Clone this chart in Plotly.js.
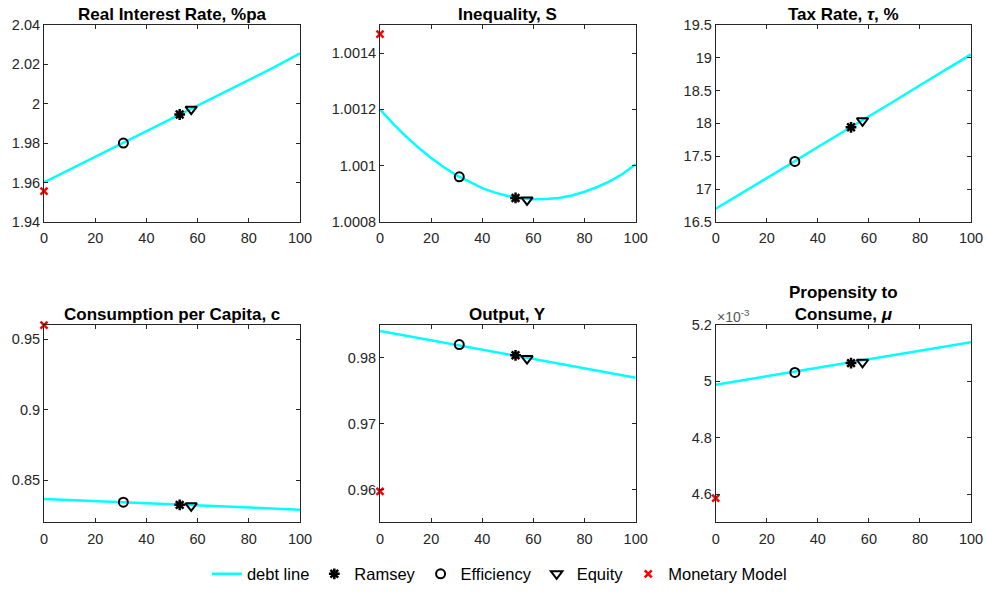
<!DOCTYPE html>
<html>
<head>
<meta charset="utf-8">
<script src="https://cdn.plot.ly/plotly-3.0.1.min.js"></script>
<style>html,body{margin:0;padding:0;background:#fff;}#chart{width:987px;height:592px;}</style>
</head>
<body>
<div id="chart"></div>
<script>
// ---- data ----
const debtX = [0, 10, 20, 30, 40, 50, 60, 70, 80, 90, 100];
const debtXfine = [0, 5, 10, 15, 20, 25, 30, 35, 40, 45, 50, 55, 60, 65, 70, 75, 80, 85, 90, 95, 100];

const rateLine = [1.960, 1.9665, 1.973, 1.9795, 1.986, 1.9925, 1.999, 2.0055, 2.012, 2.0185, 2.0255];
const ineqLine = [1.001200, 1.001150, 1.001105, 1.001064, 1.001027, 1.000994, 1.000965, 1.000941, 1.000920, 1.000904, 1.000892, 1.000884, 1.000880, 1.000881, 1.000885, 1.000894, 1.000907, 1.000924, 1.000945, 1.000971, 1.001005];
const taxLine = [16.70, 16.93, 17.17, 17.40, 17.64, 17.87, 18.11, 18.34, 18.58, 18.81, 19.05];
const consLine = [0.8366, 0.8358, 0.8351, 0.8343, 0.8336, 0.8328, 0.8320, 0.8313, 0.8305, 0.8298, 0.8290];
const outLine = [0.9841, 0.9834, 0.9827, 0.9820, 0.9813, 0.9806, 0.9799, 0.9792, 0.9785, 0.9778, 0.9770];
const mpcLine = [4.988e-3, 5.003e-3, 5.018e-3, 5.033e-3, 5.048e-3, 5.064e-3, 5.079e-3, 5.094e-3, 5.109e-3, 5.124e-3, 5.139e-3];

const ramseyX = 53, efficiencyX = 31, equityX = 57.5, monetaryX = 0;
// per panel: [rate, inequality, tax, consumption, output, propensity]
const ramseyY = [1.9945, 1.000885, 17.94, 0.8324, 0.9804, 5.065e-3];
const efficiencyY = [1.9800, 1.000960, 17.42, 0.8343, 0.98204, 5.032e-3];
const equityY = [1.9972, 1.000878, 18.04, 0.8317, 0.9799, 5.068e-3];
const monetaryY = [1.9556, 1.001467, null, 0.9600, 0.9597, 4.586e-3];

const titles = ["Real Interest Rate, %pa", "Inequality, S", "Tax Rate, <i>τ</i>, %",
                "Consumption per Capita, c", "Output, Y", "Propensity to<br>Consume, <i>μ</i>"];
const legendNames = ["debt line", "Ramsey", "Efficiency", "Equity", "Monetary Model"];

// ---- layout helpers ----
const W = 987, H = 592;
const colsPx = [[44, 300], [380, 635.7], [715.7, 971]];
const rowsPx = [[25, 223], [326.7, 525]];
const yRanges = [[1.94, 2.04], [1.0008, 1.0015], [16.5, 19.5], [0.82, 0.96], [0.955, 0.985], [4.5e-3, 5.2e-3]];
const yDticks = [0.02, 0.0002, 0.5, 0.05, 0.01, 0.2e-3];
const lines = [rateLine, ineqLine, taxLine, consLine, outLine, mpcLine];
const lineXs = [debtX, debtXfine, debtX, debtX, debtX, debtX];

const font = "Liberation Sans, Arial, Helvetica, sans-serif";
const axCol = "#262626";
const tickSize = 14.5;
const traces = [];
const layout = {
  width: W, height: H,
  margin: {l: 0, r: 0, t: 0, b: 0},
  paper_bgcolor: "#fff", plot_bgcolor: "#fff",
  font: {family: font, size: tickSize, color: axCol},
  showlegend: true,
  legend: {orientation: "h", x: 0.506, xanchor: "center", y: 1 - 577 / H, yanchor: "middle",
           font: {family: font, size: 16.5, color: "#000"}, bgcolor: "rgba(0,0,0,0)", itemwidth: 30,
           tracegroupgap: 0},
  annotations: []
};

for (let i = 0; i < 6; i++) {
  const r = Math.floor(i / 3), c = i % 3;
  const xa = i === 0 ? "x" : "x" + (i + 1);
  const ya = i === 0 ? "y" : "y" + (i + 1);
  const xkey = i === 0 ? "xaxis" : "xaxis" + (i + 1);
  const ykey = i === 0 ? "yaxis" : "yaxis" + (i + 1);
  const dom = [1 - rowsPx[r][1] / H, 1 - rowsPx[r][0] / H];
  layout[xkey] = {
    domain: [colsPx[c][0] / W, colsPx[c][1] / W], anchor: ya, range: [0, 100],
    tick0: 0, dtick: 20, ticks: "inside", ticklen: 4, tickcolor: axCol, mirror: "ticks",
    showline: true, linecolor: axCol, linewidth: 1, showgrid: false, zeroline: false,
    ticklabelstandoff: 3,
    tickfont: {family: font, size: tickSize, color: axCol}
  };
  const yax = {
    domain: dom, anchor: xa, range: yRanges[i], tick0: 0, dtick: yDticks[i],
    ticks: "inside", ticklen: 4, tickcolor: axCol, mirror: "ticks",
    showline: true, linecolor: axCol, linewidth: 1, showgrid: false, zeroline: false,
    tickfont: {family: font, size: tickSize, color: axCol}
  };
  if (i === 5) {
    yax.tickmode = "array";
    yax.tickvals = [4.6e-3, 4.8e-3, 5.0e-3, 5.2e-3];
    yax.ticktext = ["4.6", "4.8", "5", "5.2"];
  }
  layout[ykey] = yax;

  const show = i === 0;
  traces.push({x: lineXs[i], y: lines[i], xaxis: xa, yaxis: ya, type: "scatter", mode: "lines",
    line: {color: "#00FFFF", width: 2.5}, name: legendNames[0], showlegend: show, legendgroup: "a", cliponaxis: false});
  traces.push({x: [ramseyX], y: [ramseyY[i]], xaxis: xa, yaxis: ya, type: "scatter", mode: "markers",
    marker: {symbol: "asterisk-open", size: 9, color: "#000", line: {color: "#000", width: 2.5}},
    name: legendNames[1], showlegend: show, legendgroup: "b", cliponaxis: false});
  traces.push({x: [efficiencyX], y: [efficiencyY[i]], xaxis: xa, yaxis: ya, type: "scatter", mode: "markers",
    marker: {symbol: "circle-open", size: 9, color: "#000", line: {color: "#000", width: 2}},
    name: legendNames[2], showlegend: show, legendgroup: "c", cliponaxis: false});
  traces.push({x: [equityX], y: [equityY[i]], xaxis: xa, yaxis: ya, type: "scatter", mode: "markers",
    marker: {symbol: "triangle-down-open", size: 10, color: "#000", line: {color: "#000", width: 2}},
    name: legendNames[3], showlegend: show, legendgroup: "d", cliponaxis: false});
  traces.push({x: [monetaryX], y: [monetaryY[i]], xaxis: xa, yaxis: ya, type: "scatter", mode: "markers",
    marker: {symbol: "x-thin-open", size: 7, color: "#FF0000", line: {color: "#FF0000", width: 2.5}},
    name: legendNames[4], showlegend: show, legendgroup: "e", cliponaxis: false});

  layout.annotations.push({
    text: "<b>" + titles[i] + "</b>", xref: "paper", yref: "paper",
    x: (colsPx[c][0] + colsPx[c][1]) / 2 / W, y: dom[1], xanchor: "center", yanchor: "bottom",
    yshift: -1, showarrow: false, font: {family: font, size: 17, color: "#000"}
  });
}
layout.annotations.push({
  text: "×10<sup>-3</sup>", xref: "paper", yref: "paper", x: 715 / W, y: 1 - 318 / H,
  xanchor: "left", yanchor: "middle", showarrow: false, font: {family: font, size: 14, color: "#555"}
});

Plotly.newPlot("chart", traces, layout, {staticPlot: true, displayModeBar: false});
</script>
</body>
</html>
